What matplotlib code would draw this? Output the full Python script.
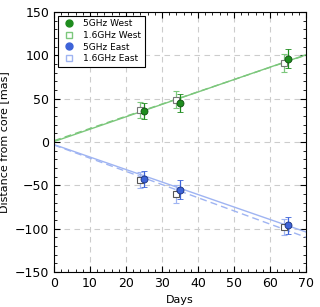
import matplotlib
matplotlib.use("Agg")
import matplotlib.pyplot as plt
from matplotlib.lines import Line2D
from matplotlib.ticker import MultipleLocator
import numpy as np

# Data
days_5 = [25, 35, 65]
days_16 = [24, 34, 64]
west_5 = [36, 45, 96]
west_5_err = [9, 10, 11]
west_16 = [37, 49, 91]
west_16_err = [9, 10, 10]
east_5 = [-43, -55, -96]
east_5_err = [9, 11, 10]
east_16 = [-44, -60, -98]
east_16_err = [9, 10, 9]

# Fitted lines (intercept, slope)
fit_w5 = (0.5, 1.43)
fit_w16 = (1.5, 1.41)
fit_e5 = (-3.0, -1.44)
fit_e16 = (-3.5, -1.52)

c_green = "#1e8c1e"
c_green_l = "#7cc77c"
c_blue = "#3d63d8"
c_blue_l = "#9fb4f2"

fig = plt.figure(figsize=(3.2, 3.07), dpi=100)
ax = fig.add_axes([0.169, 0.114, 0.787, 0.847])

xx = np.array([0, 70])
ax.plot(xx, fit_w5[0] + fit_w5[1] * xx, color=c_green_l, lw=1.0, zorder=2)
ax.plot(xx, fit_w16[0] + fit_w16[1] * xx, color=c_green_l, lw=1.0, ls=(0, (5, 3)), zorder=2)
ax.plot(xx, fit_e5[0] + fit_e5[1] * xx, color=c_blue_l, lw=1.0, zorder=2)
ax.plot(xx, fit_e16[0] + fit_e16[1] * xx, color=c_blue_l, lw=1.0, ls=(0, (5, 3)), zorder=2)

ekw = dict(capsize=2.5, elinewidth=0.9, capthick=0.9, ls="none", zorder=3)
ax.errorbar(days_16, west_16, yerr=west_16_err, fmt="s", ms=5, mfc="white",
            mec="#777777", mew=0.8, ecolor=c_green_l, **ekw)
ax.errorbar(days_5, west_5, yerr=west_5_err, fmt="o", ms=5, mfc=c_green,
            mec="#0d4d0d", mew=0.6, ecolor=c_green, **ekw)
ax.errorbar(days_16, east_16, yerr=east_16_err, fmt="s", ms=5, mfc="white",
            mec="#555555", mew=0.8, ecolor=c_blue_l, **ekw)
ax.errorbar(days_5, east_5, yerr=east_5_err, fmt="o", ms=5, mfc=c_blue,
            mec="#1a2f7a", mew=0.6, ecolor=c_blue, **ekw)

ax.set_xlim(0, 70)
ax.set_ylim(-150, 150)
ax.xaxis.set_major_locator(MultipleLocator(10))
ax.xaxis.set_minor_locator(MultipleLocator(2))
ax.yaxis.set_major_locator(MultipleLocator(50))
ax.yaxis.set_minor_locator(MultipleLocator(10))
ax.tick_params(which="both", direction="in", top=True, right=True, labelsize=9)
ax.tick_params(which="major", length=4)
ax.tick_params(which="minor", length=2)
ax.grid(True, which="major", color="#cccccc", ls=(0, (5, 4)), lw=0.8)
ax.set_axisbelow(True)

ax.set_xlabel("Days", fontsize=8)
ax.set_ylabel("Distance from core [mas]", fontsize=8)

handles = [
    Line2D([], [], marker="o", ls="none", ms=5, mfc=c_green, mec=c_green),
    Line2D([], [], marker="s", ls="none", ms=5, mfc="white", mec=c_green_l),
    Line2D([], [], marker="o", ls="none", ms=5, mfc=c_blue, mec=c_blue),
    Line2D([], [], marker="s", ls="none", ms=5, mfc="white", mec=c_blue_l),
]
labels = ["5GHz West", "1.6GHz West", "5GHz East", "1.6GHz East"]
leg = ax.legend(handles, labels, loc="upper left", fontsize=6.5, fancybox=False,
                edgecolor="black", framealpha=1, borderaxespad=0.4,
                handletextpad=0.8, labelspacing=0.3, handlelength=1.6)
leg.get_frame().set_linewidth(0.8)

fig.savefig("out.png", dpi=100)
